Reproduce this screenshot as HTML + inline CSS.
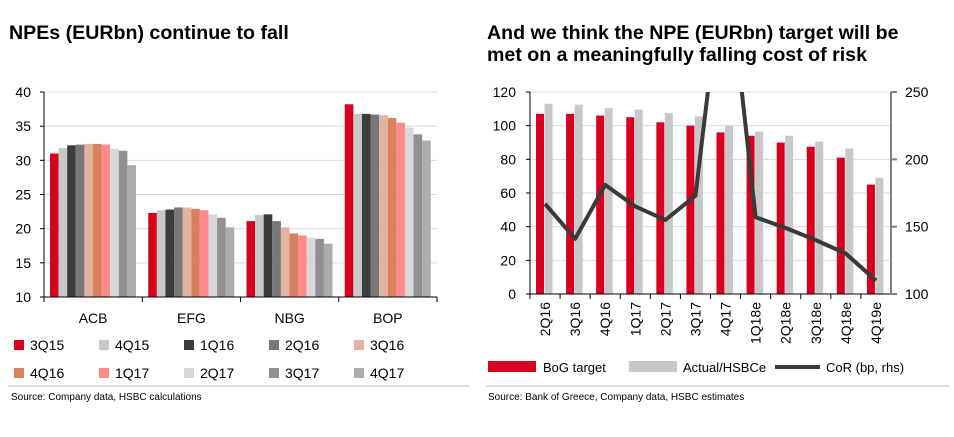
<!DOCTYPE html>
<html><head><meta charset="utf-8"><style>
body{margin:0;background:#fff;font-family:"Liberation Sans",Arial,sans-serif;}
svg text{font-family:"Liberation Sans",Arial,sans-serif;}
</style></head><body>
<svg id="s" width="954" height="432" xmlns="http://www.w3.org/2000/svg">
<text x="9" y="39" font-size="19.6" font-weight="bold" fill="#000">NPEs (EURbn) continue to fall</text>
<text x="487" y="39" font-size="19.6" font-weight="bold" fill="#000">And we think the NPE (EURbn) target will be</text>
<text x="487" y="61" font-size="19.6" font-weight="bold" fill="#000">met on a meaningfully falling cost of risk</text>
<line x1="8" y1="386" x2="470" y2="386" stroke="#bbb"/>
<line x1="486" y1="386" x2="950" y2="386" stroke="#bbb"/>
<text x="11" y="400" font-size="10">Source: Company data, HSBC calculations</text>
<text x="488" y="400" font-size="10">Source: Bank of Greece, Company data, HSBC estimates</text>
<g id="L"></g><g id="R"></g>
</svg>
<script>
const NS="http://www.w3.org/2000/svg";
function el(p,t,a,txt){const e=document.createElementNS(NS,t);for(const k in a)e.setAttribute(k,a[k]);if(txt!==undefined)e.textContent=txt;p.appendChild(e);return e;}
// ---- left chart data
const banks=["ACB","EFG","NBG","BOP"];
const quarters=["3Q15","4Q15","1Q16","2Q16","3Q16","4Q16","1Q17","2Q17","3Q17","4Q17"];
const acb=[31,31.8,32.2,32.3,32.4,32.4,32.3,31.7,31.4,29.3];
const efg=[22.3,22.7,22.8,23.1,23.1,22.9,22.7,22.1,21.6,20.2];
const nbg=[21.1,22.0,22.1,21.1,20.2,19.3,19.0,18.7,18.5,17.8];
const bop=[38.2,36.8,36.8,36.7,36.6,36.2,35.5,34.8,33.8,32.9];
const leftTicks=[10,15,20,25,30,35,40];
const qColors=["#d7001e","#c8c8c8","#3c3c3c","#787878","#e0b4a0","#d98060","#ff8a8a","#d8d8d8","#909090","#acacac"];
const L=document.getElementById('L');
const ly=v=>297-(v-10)*205/30;
const lx0=44,gw=98.25;
leftTicks.forEach(t=>{
 if(t>10){const g=el(L,'line',{x1:lx0,x2:437,y1:ly(t),y2:ly(t),stroke:'#d9d9d9'});
 
 }
 const tx=el(L,'text',{x:31,y:ly(t)+5,'font-size':14,'text-anchor':'end'},t);
 
 
});
const series=[acb,efg,nbg,bop];
banks.forEach((b,i)=>{
 series[i].forEach((v,j)=>{
  const r=el(L,'rect',{x:lx0+i*gw+6+j*8.6,y:ly(v),width:8.6,height:297-ly(v),fill:qColors[j]});
  
  
 });
 const t=el(L,'text',{x:lx0+i*gw+gw/2,y:323,'font-size':14,'text-anchor':'middle'},b);
 
 
});
const ax=el(L,'path',{d:`M${lx0} 92V297H437`,stroke:'#000',fill:'none'});


for(let i=0;i<=4;i++){const tk=el(L,'line',{x1:lx0+i*gw,x2:lx0+i*gw,y1:297,y2:302,stroke:'#000'});
 
 }
for(let i=0;i<=6;i++){const tk=el(L,'line',{x1:40,x2:lx0,y1:ly(leftTicks[i]),y2:ly(leftTicks[i]),stroke:'#000'});
 
 }
quarters.forEach((q,j)=>{
 const col=j%5,row=Math.floor(j/5);
 const x=14+col*85,y=340+row*28;
 const r=el(L,'rect',{x:x,y:y,width:10,height:10,fill:qColors[j]});
 
 
 const t=el(L,'text',{x:x+16,y:y+10,'font-size':14},q);
 
 
});
// ---- right chart data
const periods=["2Q16","3Q16","4Q16","1Q17","2Q17","3Q17","4Q17","1Q18e","2Q18e","3Q18e","4Q18e","4Q19e"];
const bog=[107,107,106,105,102,100,96,94,90,87.5,81,65];
const actual=[113,112.5,110.5,109.5,107.5,105.5,100,96.5,94,90.5,86.5,69];
const cor=[167,141,181,165,155,173,360,157,149,140,130,110];
const rLeftTicks=[0,20,40,60,80,100,120];
const rRightTicks=[100,150,200,250];
const R=document.getElementById('R');
const rx0=530,rx1=891,cw=(rx1-rx0)/12;
const ry=v=>294-v*202/120;
const ry2=v=>294-(v-100)*202/150;
el(R,'defs',{}).innerHTML='<clipPath id="cp"><rect x="530" y="92" width="361" height="202"/></clipPath>';
rLeftTicks.forEach(t=>{
 if(t>0){const g=el(R,'line',{x1:rx0,x2:rx1,y1:ry(t),y2:ry(t),stroke:'#d9d9d9'});
 
 }
 const tx=el(R,'text',{x:516,y:ry(t)+5,'font-size':14,'text-anchor':'end'},t);
 
 
 const tk=el(R,'line',{x1:526,x2:rx0,y1:ry(t),y2:ry(t),stroke:'#000'});
 
 
});
rRightTicks.forEach(t=>{
 const tx=el(R,'text',{x:905,y:ry2(t)+5,'font-size':14},t);
 
 
 const tk=el(R,'line',{x1:rx1,x2:rx1+6,y1:ry2(t),y2:ry2(t),stroke:'#808080','stroke-width':2});
 
 
});
periods.forEach((p,i)=>{
 const b=el(R,'rect',{x:rx0+i*cw+6,y:ry(bog[i]),width:8,height:294-ry(bog[i]),fill:'#d7001e'});
 
 
 const a=el(R,'rect',{x:rx0+i*cw+14.5,y:ry(actual[i]),width:8,height:294-ry(actual[i]),fill:'#c8c8c8'});
 
 
 const cx=rx0+i*cw+cw/2;
 const t=el(R,'text',{x:0,y:0,'font-size':14,'text-anchor':'end',transform:`translate(${cx+5},302) rotate(-90)`},p);
 
 
 const tk=el(R,'line',{x1:rx0+i*cw,x2:rx0+i*cw,y1:294,y2:299,stroke:'#000'});
 
 
});
const pts=cor.map((v,i)=>`${rx0+i*cw+cw/2},${ry2(v)}`).join(' ');
const ln=el(R,'polyline',{points:pts,fill:'none',stroke:'#3a3a3a','stroke-width':4,'clip-path':'url(#cp)','stroke-linejoin':'round'});


const rax=el(R,'path',{d:`M${rx0} 92V294H${rx1}`,stroke:'#000',fill:'none'});


const r2=el(R,'line',{x1:rx1,x2:rx1,y1:92,y2:294,stroke:'#808080','stroke-width':2});


const lg1=el(R,'rect',{x:488,y:361,width:48,height:11,fill:'#d7001e'});


const lt1=el(R,'text',{x:543,y:372,'font-size':13},'BoG target');


const lg2=el(R,'rect',{x:629,y:361,width:48,height:11,fill:'#c8c8c8'});


const lt2=el(R,'text',{x:683,y:372,'font-size':13},'Actual/HSBCe');


const lg3=el(R,'line',{x1:775,x2:820,y1:367,y2:367,stroke:'#3a3a3a','stroke-width':4});


const lt3=el(R,'text',{x:826,y:372,'font-size':13},'CoR (bp, rhs)');


</script>
</body></html>
